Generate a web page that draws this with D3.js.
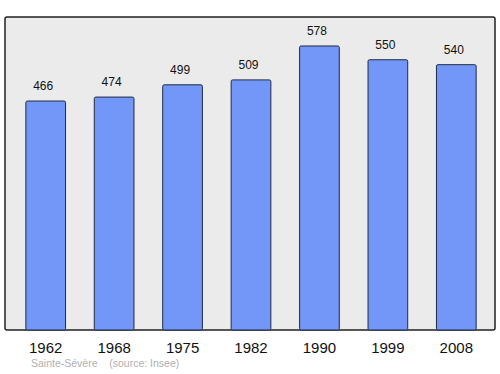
<!DOCTYPE html>
<html>
<head>
<meta charset="utf-8">
<script src="https://cdn.jsdelivr.net/npm/d3@7"></script>
<style>
  body { margin: 0; background: #fff; }
  svg { display: block; font-family: "Liberation Sans", Arial, sans-serif; }
</style>
</head>
<body>
<div id="chart"></div>
<script>
const years = ['1962', '1968', '1975', '1982', '1990', '1999', '2008'];
const population = [466, 474, 499, 509, 578, 550, 540];
const caption = 'Sainte-Sévère    (source: Insee)';

const width = 500, height = 374;
const frame = {left: 5, right: 495, top: 17, bottom: 330};

const svg = d3.select("#chart")
  .append("svg")
    .attr("width", width)
    .attr("height", height);

// plot background
svg.append("rect")
  .attr("x", frame.left)
  .attr("y", frame.top)
  .attr("width", frame.right - frame.left)
  .attr("height", frame.bottom - frame.top)
  .attr("rx", 2)
  .attr("fill", "#ebebeb")
  .attr("stroke", "#222")
  .attr("stroke-width", 1.5);

const x = d3.scaleBand()
  .domain(years)
  .range([frame.left + 1, frame.right + 1])
  .paddingInner(0.42)
  .paddingOuter(0.29);

const y = d3.scaleLinear()
  .domain([0, 637])
  .range([frame.bottom, frame.top]);

svg.append("g")
  .selectAll("rect")
  .data(population)
  .join("rect")
    .attr("x", (d, i) => x(years[i]))
    .attr("y", d => y(d))
    .attr("width", x.bandwidth())
    .attr("height", d => frame.bottom - y(d))
    .attr("rx", 1.5)
    .attr("fill", "#7297f8")
    .attr("stroke", "#1f2a44")
    .attr("stroke-width", 1);

// value labels
svg.append("g")
  .selectAll("text")
  .data(population)
  .join("text")
    .attr("x", (d, i) => x(years[i]) + x.bandwidth() / 2 - 2.5)
    .attr("y", d => y(d) - 11)
    .attr("text-anchor", "middle")
    .style("font-size", "12px")
    .attr("fill", "#111")
    .text(d => d);

// year axis labels
const xAxis = d3.axisBottom(x).tickSize(0).tickPadding(12);
svg.append("g")
  .attr("transform", `translate(0, ${frame.bottom})`)
  .call(xAxis)
  .call(g => g.select(".domain").remove())
  .call(g => g.selectAll("text")
    .style("font-size", "15px")
    .style("font-family", '"Liberation Sans", Arial, sans-serif')
    .attr("fill", "#111"));

svg.append("text")
  .attr("x", 31)
  .attr("y", 367)
  .style("font-size", "10.5px")
  .style("white-space", "pre")
  .attr("xml:space", "preserve")
  .attr("fill", "#b0b0b0")
  .text(caption);
</script>
</body>
</html>
